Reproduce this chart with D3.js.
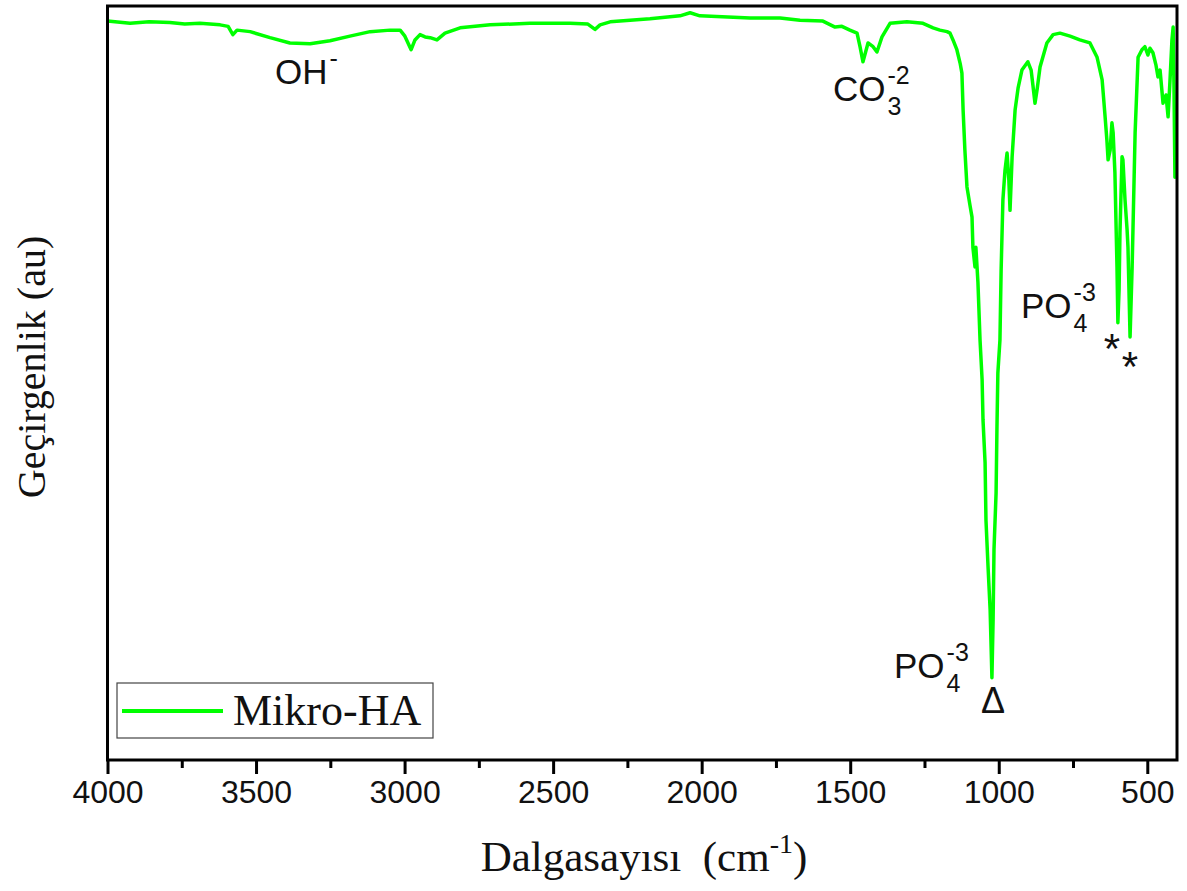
<!DOCTYPE html>
<html>
<head>
<meta charset="utf-8">
<script src="https://cdn.jsdelivr.net/npm/d3@7"></script>
<style>
  html, body { margin: 0; padding: 0; background: #fff; }
  svg { display: block; }
</style>
</head>
<body>
<svg id="chart" width="1187" height="891"></svg>
<script>
// FTIR spectrum of micro-hydroxyapatite (Mikro-HA)
const wavenumber = [
  4000, 3924, 3860, 3790, 3740, 3689, 3621, 3594, 3578, 3564, 3520, 3453, 3386, 3318,
  3251, 3184, 3116, 3049, 3015, 2999, 2978, 2965, 2948, 2931, 2914, 2891, 2864, 2813,
  2712, 2578, 2443, 2383, 2359, 2342, 2308, 2174, 2073, 2039, 2006, 1837, 1736, 1669,
  1592, 1551, 1528, 1501, 1477, 1467, 1457, 1440, 1423, 1410, 1393, 1366, 1309, 1255,
  1221, 1198, 1174, 1164, 1154, 1141, 1130, 1124, 1120, 1114, 1107, 1097, 1090, 1087,
  1080, 1077, 1070, 1063, 1056, 1053, 1046, 1043, 1036, 1029, 1023, 1019, 1016, 1009,
  1006, 1003, 996, 992, 986, 979, 972, 966, 962, 955, 945, 935, 922, 902, 891, 885,
  878, 871, 861, 838, 817, 794, 760, 727, 693, 669, 652, 642, 636, 632, 625, 619,
  615, 609, 602, 599, 595, 592, 585, 582, 575, 568, 565, 558, 551, 541, 531, 518,
  508, 498, 491, 481, 471, 464, 457, 447, 437, 430, 424, 417, 413, 410, 407, 403, 400
];
const transmittance = [
  98.0, 97.7, 97.9, 97.8, 97.6, 97.7, 97.5, 97.3, 96.2, 96.8, 96.6, 95.8, 95.1, 95.0,
  95.4, 96.0, 96.6, 96.8, 96.8, 96.0, 94.2, 95.5, 96.2, 95.9, 95.8, 95.5, 96.4, 97.1,
  97.5, 97.7, 97.7, 97.6, 96.9, 97.5, 97.9, 98.3, 98.7, 99.1, 98.7, 98.4, 98.4, 98.1,
  98.0, 97.2, 97.3, 96.8, 96.4, 94.6, 92.6, 95.1, 94.6, 93.9, 95.9, 97.7, 97.9, 97.7,
  97.1, 96.8, 96.6, 96.4, 95.5, 94.2, 92.4, 91.1, 86.2, 80.9, 76.0, 73.6, 72.0, 68.0,
  65.4, 68.0, 63.3, 55.7, 50.4, 45.1, 39.4, 31.8, 25.6, 19.9, 10.9, 18.6, 27.9, 35.4,
  44.2, 51.3, 55.7, 65.0, 74.3, 78.2, 80.5, 76.9, 72.9, 80.0, 86.2, 89.1, 91.5, 92.6, 91.5, 89.5,
  87.1, 88.9, 91.9, 95.1, 96.2, 96.4, 96.0, 95.5, 95.1, 93.2, 90.2, 85.3, 82.2, 79.6, 80.9, 84.5,
  83.2, 77.9, 65.4, 58.0, 62.3, 69.9, 80.0, 79.6, 74.3, 70.3, 68.0, 56.1, 65.4, 83.2, 93.2, 94.2,
  94.6, 93.5, 94.4, 93.8, 92.2, 90.6, 91.5, 87.1, 88.2, 85.3, 89.8, 95.5, 97.2, 88.9, 77.3, 77.6, 77.5
];
const majorTicks = [4000, 3500, 3000, 2500, 2000, 1500, 1000, 500];
const minorTicks = [3750, 3250, 2750, 2250, 1750, 1250, 750];
const seriesName = "Mikro-HA";
const xTitle = "Dalgasayısı";
const yTitle = "Geçirgenlik (au)";

const svg = d3.select("#chart");
const plotLeft = 107.5, plotRight = 1177, plotTop = 6, plotBottom = 760;

const x = d3.scaleLinear().domain([4000, 400]).range([plotLeft, plotRight]);
const y = d3.scaleLinear().domain([0, 100]).range([plotBottom, plotTop]);

const sans = "'Liberation Sans', Arial, sans-serif";
const serif = "'Liberation Serif', 'Times New Roman', serif";
const green = "#00ff00";

// spectrum line
const pts = wavenumber.map((w, i) => [w, transmittance[i]]);
svg.append("path")
  .datum(pts)
  .attr("fill", "none")
  .attr("stroke", green)
  .attr("stroke-width", 3.5)
  .attr("stroke-linejoin", "round")
  .attr("d", d3.line().x(d => x(d[0])).y(d => y(d[1])));

// frame
svg.append("rect")
  .attr("x", plotLeft).attr("y", plotTop)
  .attr("width", plotRight - plotLeft).attr("height", plotBottom - plotTop)
  .attr("fill", "none").attr("stroke", "#000").attr("stroke-width", 3);

// bottom axis, major and minor ticks
const gMajor = svg.append("g").attr("transform", `translate(0,${plotBottom})`)
  .call(d3.axisBottom(x).tickValues(majorTicks).tickSize(14).tickPadding(6).tickFormat(d3.format("d")));
gMajor.select(".domain").remove();
gMajor.selectAll(".tick line").attr("stroke", "#000").attr("stroke-width", 3);
gMajor.selectAll(".tick text").attr("font-family", sans).attr("font-size", 32).attr("fill", "#111");

const gMinor = svg.append("g").attr("transform", `translate(0,${plotBottom})`)
  .call(d3.axisBottom(x).tickValues(minorTicks).tickSize(8).tickFormat(""));
gMinor.select(".domain").remove();
gMinor.selectAll(".tick line").attr("stroke", "#000").attr("stroke-width", 3);

// axis titles
const xt = svg.append("text")
  .attr("x", 644).attr("y", 871)
  .attr("text-anchor", "middle")
  .attr("font-family", serif).attr("font-size", 43).attr("fill", "#111");
xt.append("tspan").text(xTitle + "\u00a0\u00a0(cm");
xt.append("tspan").attr("dy", -18).attr("font-size", 28).text("-1");
xt.append("tspan").attr("dy", 18).text(")");

svg.append("text")
  .attr("transform", "translate(45,367) rotate(-90)")
  .attr("text-anchor", "middle")
  .attr("font-family", serif).attr("font-size", 40).attr("fill", "#111")
  .text(yTitle);

// peak annotations: main text with stacked sub/superscripts
function chem(xPos, yBase, main, sub, sup) {
  const t = svg.append("text").attr("x", xPos).attr("y", yBase)
    .attr("font-family", sans).attr("font-size", 35).attr("fill", "#111").text(main);
  const w = t.node().getComputedTextLength();
  if (sub) svg.append("text").attr("x", xPos + w + 2).attr("y", yBase + 14)
    .attr("font-family", sans).attr("font-size", 25).attr("fill", "#111").text(sub);
  if (sup) svg.append("text").attr("x", xPos + w + 2).attr("y", yBase - 17)
    .attr("font-family", sans).attr("font-size", 25).attr("fill", "#111").text(sup);
}
chem(275, 84, "OH", null, "-");
chem(833, 101, "CO", "3", "-2");
chem(1021, 318, "PO", "4", "-3");
chem(894, 678, "PO", "4", "-3");

// band markers
svg.append("text").attr("x", 1112).attr("y", 363).attr("text-anchor", "middle")
  .attr("font-family", sans).attr("font-size", 42).attr("fill", "#111").text("*");
svg.append("text").attr("x", 1130).attr("y", 381).attr("text-anchor", "middle")
  .attr("font-family", sans).attr("font-size", 42).attr("fill", "#111").text("*");
svg.append("text").attr("x", 993).attr("y", 713).attr("text-anchor", "middle")
  .attr("font-family", sans).attr("font-size", 36).attr("fill", "#111").text("\u0394");

// legend
const lg = svg.append("g");
lg.append("rect").attr("x", 117).attr("y", 683).attr("width", 316).attr("height", 55)
  .attr("fill", "#fff").attr("stroke", "#444").attr("stroke-width", 1.2);
lg.append("line").attr("x1", 122).attr("x2", 223).attr("y1", 711).attr("y2", 711)
  .attr("stroke", green).attr("stroke-width", 4);
lg.append("text").attr("x", 233).attr("y", 725)
  .attr("font-family", serif).attr("font-size", 44).attr("fill", "#111").text(seriesName);
</script>
</body>
</html>
